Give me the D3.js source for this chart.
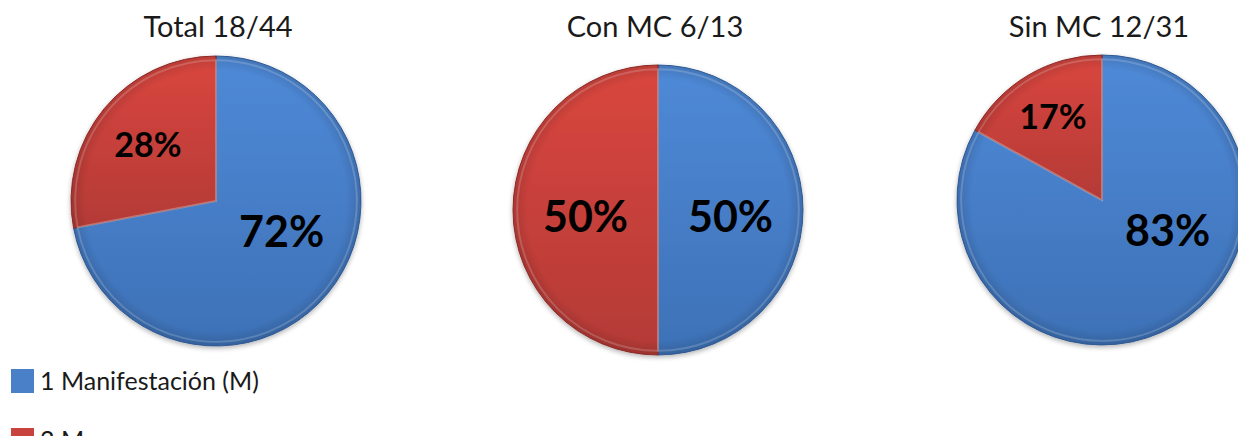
<!DOCTYPE html>
<html>
<head>
<meta charset="utf-8">
<script src="https://cdn.jsdelivr.net/npm/d3@7"></script>
<style>
html,body{margin:0;padding:0;background:#fff;}
svg{display:block;}
</style>
</head>
<body>
<svg id="chart" width="1238" height="436"></svg>
<script>
// ---- data ----
const chartTitles = ["Total 18/44", "Con MC 6/13", "Sin MC 12/31"];
const seriesNames = ["1 Manifestación (M)", "2 M"];
const oneManifestation = [72, 50, 83];
const twoManifestations = [28, 50, 17];

// ---- layout ----
const W = 1238, H = 436;
const svg = d3.select("#chart");
const centers = [{x: 216, y: 201}, {x: 658, y: 210}, {x: 1102, y: 200}];
const R = 145;
const FONT = "Lato, 'Open Sans', sans-serif";

const colors = d3.scaleOrdinal().domain(seriesNames).range(["#4a80c8", "#c8423f"]);
const lightC = {"1 Manifestación (M)": "#4f8ad8", "2 M": "#d9463f"};
const darkC = {"1 Manifestación (M)": "#3d71b6", "2 M": "#b43a36"};
const edgeC = {"1 Manifestación (M)": "#34609c", "2 M": "#962f2c"};

const defs = svg.append("defs");
seriesNames.forEach((s, i) => {
  const g = defs.append("linearGradient").attr("id", "grad" + i)
    .attr("x1", 0).attr("y1", 0).attr("x2", 0).attr("y2", 1)
    .attr("gradientUnits", "objectBoundingBox");
  g.append("stop").attr("offset", "0%").attr("stop-color", lightC[s]);
  g.append("stop").attr("offset", "100%").attr("stop-color", darkC[s]);
});
const rg = defs.append("radialGradient").attr("id", "rim")
  .attr("cx", "50%").attr("cy", "50%").attr("r", "50%");
rg.append("stop").attr("offset", "0%").attr("stop-color", "#000").attr("stop-opacity", 0);
rg.append("stop").attr("offset", "90%").attr("stop-color", "#000").attr("stop-opacity", 0);
rg.append("stop").attr("offset", "100%").attr("stop-color", "#000").attr("stop-opacity", 0.14);
const sh = defs.append("filter").attr("id", "shadow").attr("x", "-20%").attr("y", "-20%").attr("width", "140%").attr("height", "140%");
sh.append("feGaussianBlur").attr("in", "SourceAlpha").attr("stdDeviation", 2.5).attr("result", "b");
sh.append("feOffset").attr("in", "b").attr("dx", 0).attr("dy", 2).attr("result", "o");
sh.append("feComponentTransfer").attr("in", "o").attr("result", "o2")
  .append("feFuncA").attr("type", "linear").attr("slope", 0.3);
const mg = sh.append("feMerge");
mg.append("feMergeNode").attr("in", "o2");
mg.append("feMergeNode").attr("in", "SourceGraphic");

const pie = d3.pie().sort(null).value(d => d.value);
const arc = d3.arc().innerRadius(0).outerRadius(R);

chartTitles.forEach((title, i) => {
  const data = [
    {name: seriesNames[0], value: oneManifestation[i], idx: 0},
    {name: seriesNames[1], value: twoManifestations[i], idx: 1}
  ];
  const c = centers[i];
  const g = svg.append("g").attr("transform", `translate(${c.x},${c.y})`);

  svg.append("text")
    .attr("x", c.x + (i === 0 ? 2 : -3)).attr("y", 37)
    .attr("text-anchor", "middle")
    .attr("font-family", FONT).attr("font-size", 29)
    .attr("fill", "#1a1a1a")
    .text(title);

  const arcs = pie(data);
  const pg = g.append("g").attr("filter", "url(#shadow)");
  pg.selectAll("path.slice").data(arcs).enter().append("path")
    .attr("class", "slice")
    .attr("d", arc)
    .attr("fill", d => `url(#grad${d.data.idx})`)
    .attr("stroke", d => edgeC[d.data.name])
    .attr("stroke-width", 1);
  g.append("circle").attr("r", R).attr("fill", "url(#rim)").attr("pointer-events", "none");
  g.selectAll("path.hl").data(arcs).enter().append("path")
    .attr("class", "hl")
    .attr("d", d3.arc().innerRadius(0).outerRadius(R - 2))
    .attr("fill", "none")
    .attr("stroke", "#ffffff").attr("stroke-opacity", 0.18).attr("stroke-width", 2)
    .attr("transform", "scale(0.985)");

  g.selectAll("text.lbl").data(arcs).enter().append("text")
    .attr("class", "lbl")
    .attr("transform", d => {
      const p = d.data.value / 100;
      let a = (d.startAngle + d.endAngle) / 2;
      if (p > 0.5) a = Math.min(a, 2 * Math.PI * 0.32);
      const f = p >= 0.5 ? 0.5 : 0.5 + (0.5 - p) * 0.5;
      const rr = R * f;
      return `translate(${Math.sin(a) * rr},${-Math.cos(a) * rr})`;
    })
    .attr("text-anchor", "middle")
    .attr("dy", d => d.data.value === 50 ? "0.5em" : "0.36em")
    .attr("font-family", FONT).attr("font-weight", "bold")
    .attr("font-size", d => d.data.value >= 50 ? 43 : 34)
    .attr("fill", "#000")
    .text(d => d.data.value + "%");
});

// legend
const legend = svg.append("g");
seriesNames.forEach((s, i) => {
  const y = 369 + i * 59;
  legend.append("rect").attr("x", 11).attr("y", y).attr("width", 23).attr("height", 24)
    .attr("fill", colors(s));
  legend.append("text").attr("x", 40).attr("y", y + 21)
    .attr("font-family", FONT).attr("font-size", 25)
    .attr("fill", "#1a1a1a")
    .text(s);
});
</script>
</body>
</html>
